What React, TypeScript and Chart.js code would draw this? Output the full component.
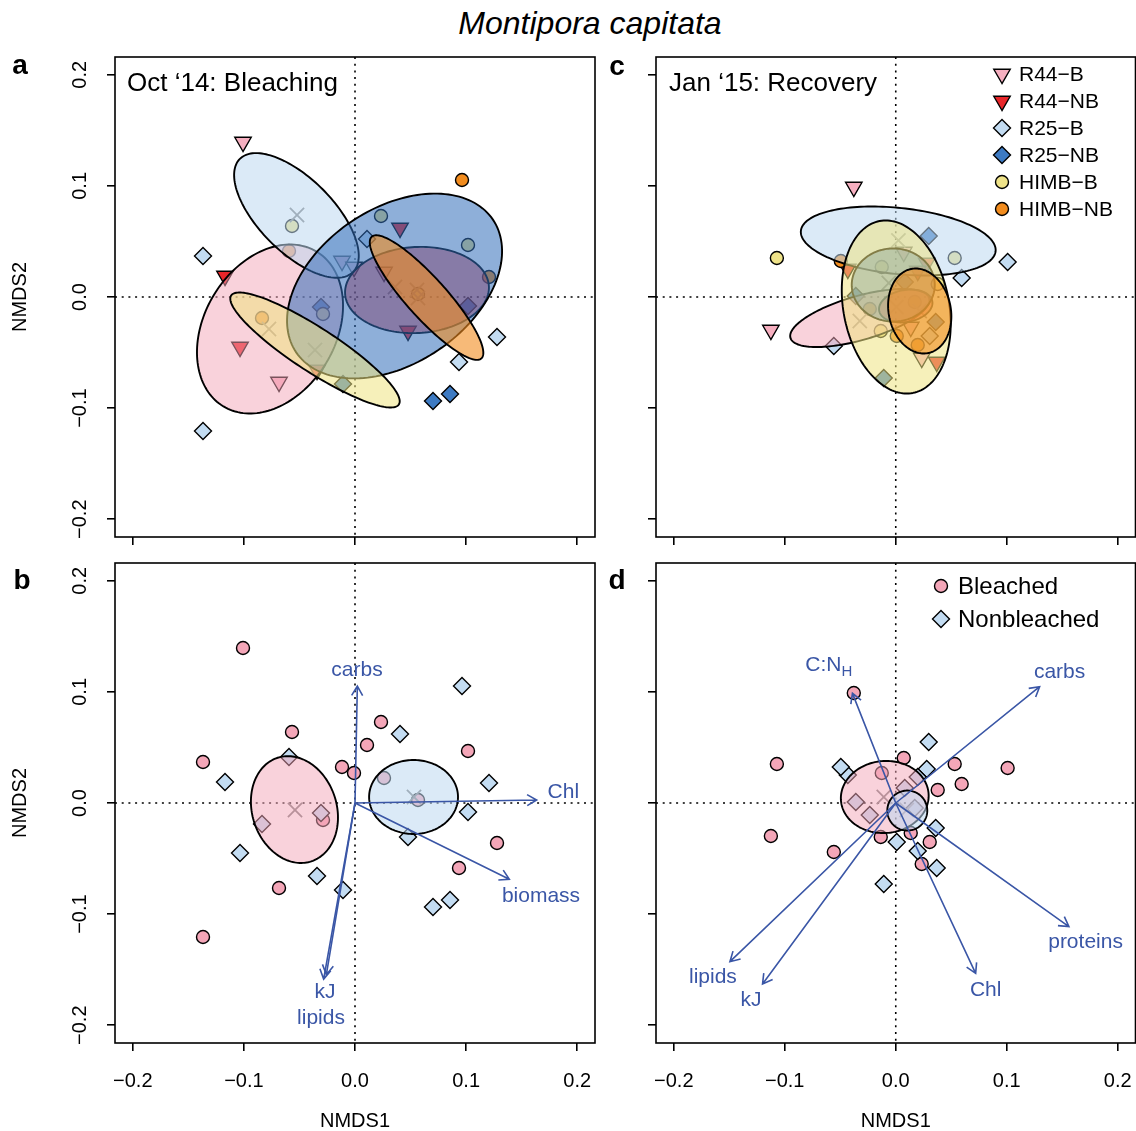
import React, { useEffect, useRef } from "react";
import { Chart, registerables } from "chart.js";

Chart.register(...registerables);

const FONT = "'Liberation Sans', Arial, Helvetica, sans-serif";
const INK = "#000000";
const VECTOR_BLUE = "#3A56A6";
const CENTROID_GREY = "#7D7D7D";

// ---------------- axes ----------------
const AXIS_MIN = -0.216;
const AXIS_MAX = 0.216;
const TICK_VALUES = [-0.2, -0.1, 0.0, 0.1, 0.2];
const TICK_LABELS = ["\u22120.2", "\u22120.1", "0.0", "0.1", "0.2"];

// ---------------- site x status groups ----------------
const GROUP_NAMES = ["R44\u2212B", "R44\u2212NB", "R25\u2212B", "R25\u2212NB", "HIMB\u2212B", "HIMB\u2212NB"];
const GROUP_SHAPES = ["triangleDown", "triangleDown", "diamond", "diamond", "circle", "circle"];
const GROUP_FILLS = ["#F6AFC0", "#E8262A", "#C3DCF2", "#3D7AC2", "#EFE389", "#F28C1E"];
const GROUP_ELLIPSE_FILLS = [
  "rgba(244,166,184,0.5)",
  "rgba(228,30,35,0.5)",
  "rgba(190,216,240,0.55)",
  "rgba(50,110,185,0.55)",
  "rgba(238,228,130,0.55)",
  "rgba(242,140,30,0.6)",
];

// Oct '14 NMDS scores (NMDS1, NMDS2)
const oct_R44_B = [[-0.1008, 0.1395], [-0.0117, 0.0324], [-0.0009, 0.027], [0.0261, 0.0225], [-0.0684, -0.0765]];
const oct_R44_NB = [[0.0405, 0.0621], [-0.117, 0.0189], [0.0477, -0.0306], [-0.1035, -0.045], [-0.0342, -0.0657]];
const oct_R25_B = [[-0.1368, 0.0369], [0.0108, 0.0522], [0.1278, -0.036], [0.0936, -0.0585], [-0.1368, -0.1206]];
const oct_R25_NB = [[0.1017, -0.0081], [-0.0306, -0.009], [-0.0108, -0.0783], [0.0702, -0.0936], [0.0855, -0.0873]];
const oct_HIMB_B = [[-0.0567, 0.0639], [0.0234, 0.0729], [0.1017, 0.0468], [0.0567, 0.0027], [-0.0288, -0.0153]];
const oct_HIMB_NB = [[0.0963, 0.1053], [0.1206, 0.018], [-0.0594, 0.0414], [-0.0837, -0.0189]];

// Jan '15 NMDS scores
const jan_R44_B = [[-0.0378, 0.099], [-0.1125, -0.0297], [0.0072, 0.0405], [0.0234, -0.0549], [0.0135, -0.027]];
const jan_R44_NB = [[-0.0432, 0.0252], [0.0279, 0.0306], [0.0369, -0.0585], [0.0198, 0.0234]];
const jan_R25_B = [[-0.0558, -0.0441], [0.1008, 0.0315], [0.0594, 0.0171], [0.0306, -0.0351]];
const jan_R25_NB = [[0.0297, 0.0549], [-0.036, 0.0009], [0.0081, 0.0135], [0.036, -0.0225], [-0.0108, -0.0729]];
const jan_HIMB_B = [[-0.1071, 0.0351], [0.0531, 0.0351], [-0.0126, 0.027], [-0.0135, -0.0306], [0.0378, 0.0117]];
const jan_HIMB_NB = [[-0.0495, 0.0324], [-0.0234, -0.0108], [0.0009, -0.0351], [0.0198, -0.0432], [0.0171, -0.0045]];

// group ellipses: [centre x, centre y, semi-axis a, semi-axis b, angle deg]
const OCT_ELLIPSES = [
  [-0.0765, -0.0288, 0.0813, 0.0591, 59],
  [0.0558, 0.0063, 0.0648, 0.0387, 3],
  [-0.0527, 0.0734, 0.072, 0.0333, -45],
  [0.0356, 0.0099, 0.1068, 0.0698, 34],
  [-0.036, -0.0477, 0.09, 0.0198, -33],
  [0.0644, -0.0005, 0.0737, 0.018, -48],
];
const JAN_ELLIPSES = [
  [-0.0324, -0.0189, 0.065, 0.0198, 16],
  [0.009, -0.0081, 0.0243, 0.0144, 10],
  [0.00225, 0.0504, 0.0882, 0.0298, -6],
  [-0.00225, 0.0108, 0.0374, 0.0329, 0],
  [0.00045, -0.009, 0.0788, 0.0476, -79],
  [0.0216, -0.0126, 0.0386, 0.028, -78.5],
];
const OCT_CENTROIDS = [[-0.0522, 0.0738], [-0.0774, -0.0288], [-0.036, -0.0477], [0.036, 0.009], [0.0558, 0.0063], [0.0567, -0.0009]];
const JAN_CENTROIDS = [[0.0024, 0.051], [-0.0324, -0.0216], [-0.0063, 0.0126], [0.0216, -0.0126], [0.0005, -0.009]];

// ---------------- bleaching status ----------------
const STATUS_NAMES = ["Bleached", "Nonbleached"];
const STATUS_SHAPES = ["circle", "diamond"];
const STATUS_FILLS = ["#F4A6B8", "#C3DCF2"];
const STATUS_ELLIPSE_FILLS = ["rgba(244,166,184,0.5)", "rgba(190,216,240,0.55)"];
const OCT_STATUS_ELLIPSES = [[-0.0545, -0.0059, 0.049, 0.038, -72], [0.0527, 0.0054, 0.04, 0.0333, 0]];
const JAN_STATUS_ELLIPSES = [[-0.0099, 0.0054, 0.0396, 0.0324, 5], [0.0104, -0.0068, 0.018, 0.018, 0]];
const OCT_STATUS_CENTROIDS = [[-0.054, -0.0063], [0.0531, 0.0054]];
const JAN_STATUS_CENTROIDS = [[-0.0108, 0.0054], [0.0099, -0.0063]];

// ---------------- fitted vectors ----------------
const OCT_VECTOR_NAMES = ["carbs", "Chl", "biomass", "kJ", "lipids"];
const OCT_VECTOR_SUBS = ["", "", "", "", ""];
const OCT_VECTOR_ENDS = [[0.0021, 0.1053], [0.1635, 0.0027], [0.1389, -0.0687], [-0.0282, -0.1585], [-0.0258, -0.1545]];
const OCT_VECTOR_LABEL_POS = [[0.0018, 0.1197], [0.1875, 0.0099], [0.1674, -0.0837], [-0.027, -0.1707], [-0.0306, -0.1941]];

const JAN_VECTOR_NAMES = ["C:N", "carbs", "proteins", "Chl", "kJ", "lipids"];
const JAN_VECTOR_SUBS = ["H", "", "", "", "", ""];
const JAN_VECTOR_ENDS = [[-0.039, 0.0987], [0.1296, 0.1047], [0.156, -0.1113], [0.072, -0.1533], [-0.12, -0.1629], [-0.1494, -0.1428]];
const JAN_VECTOR_LABEL_POS = [[-0.0603, 0.1242], [0.1476, 0.1179], [0.171, -0.1251], [0.081, -0.1683], [-0.1305, -0.1773], [-0.1647, -0.1566]];

// ---------------- drawing helpers ----------------
const RADIUS: any = { triangleDown: 9.5, diamond: 8.5, circle: 6.5 };
const CJS_STYLE: any = { triangleDown: "triangle", diamond: "rectRot", circle: "circle" };

function markerPath(ctx: any, shape: string, x: number, y: number) {
  const r = RADIUS[shape];
  ctx.beginPath();
  if (shape === "circle") {
    ctx.arc(x, y, r, 0, Math.PI * 2);
  } else if (shape === "diamond") {
    ctx.moveTo(x, y - r);
    ctx.lineTo(x + r, y);
    ctx.lineTo(x, y + r);
    ctx.lineTo(x - r, y);
    ctx.closePath();
  } else {
    for (let k = 0; k < 3; k++) {
      const a = Math.PI + (k * 2 * Math.PI) / 3;
      const px = x + Math.sin(a) * r;
      const py = y - Math.cos(a) * r;
      if (k === 0) ctx.moveTo(px, py);
      else ctx.lineTo(px, py);
    }
    ctx.closePath();
  }
}

function toPts(arr: number[][]) {
  return arr.map(([x, y]) => ({ x, y }));
}

type Spec = any;

function buildPlugin(spec: Spec) {
  return {
    id: "panelDecor",
    beforeDatasetsDraw(chart: any) {
      const { ctx, chartArea: ca, scales } = chart;
      const x0 = scales.x.getPixelForValue(0);
      const y0 = scales.y.getPixelForValue(0);
      ctx.save();
      ctx.beginPath();
      ctx.rect(ca.left, ca.top, ca.right - ca.left, ca.bottom - ca.top);
      ctx.clip();
      ctx.setLineDash([2, 4.7]);
      ctx.lineWidth = 1.6;
      ctx.strokeStyle = INK;
      ctx.beginPath();
      ctx.moveTo(x0, ca.top);
      ctx.lineTo(x0, ca.bottom);
      ctx.moveTo(ca.left, y0);
      ctx.lineTo(ca.right, y0);
      ctx.stroke();
      ctx.restore();
    },
    afterDatasetsDraw(chart: any) {
      const { ctx, chartArea: ca, scales } = chart;
      const sx = scales.x;
      const sy = scales.y;
      ctx.save();
      // ellipses
      spec.ellipses.forEach((el: any) => {
        const [cx, cy, a, b, deg] = el.e;
        const th = (deg * Math.PI) / 180;
        ctx.beginPath();
        for (let i = 0; i <= 160; i++) {
          const t = (i / 160) * Math.PI * 2;
          const dx = a * Math.cos(t);
          const dy = b * Math.sin(t);
          const x = cx + dx * Math.cos(th) - dy * Math.sin(th);
          const y = cy + dx * Math.sin(th) + dy * Math.cos(th);
          const px = sx.getPixelForValue(x);
          const py = sy.getPixelForValue(y);
          if (i === 0) ctx.moveTo(px, py);
          else ctx.lineTo(px, py);
        }
        ctx.closePath();
        ctx.fillStyle = el.fill;
        ctx.fill();
        ctx.lineWidth = 1.9;
        ctx.strokeStyle = INK;
        ctx.stroke();
      });
      // vectors
      if (spec.vectors) {
        const v = spec.vectors;
        const ox = sx.getPixelForValue(0);
        const oy = sy.getPixelForValue(0);
        ctx.strokeStyle = VECTOR_BLUE;
        ctx.fillStyle = VECTOR_BLUE;
        ctx.lineWidth = 1.6;
        v.ends.forEach((e: number[], i: number) => {
          const ex = sx.getPixelForValue(e[0]);
          const ey = sy.getPixelForValue(e[1]);
          const ang = Math.atan2(ey - oy, ex - ox);
          const hl = 11;
          const ha = Math.PI / 6;
          ctx.beginPath();
          ctx.moveTo(ox, oy);
          ctx.lineTo(ex, ey);
          ctx.moveTo(ex - hl * Math.cos(ang - ha), ey - hl * Math.sin(ang - ha));
          ctx.lineTo(ex, ey);
          ctx.lineTo(ex - hl * Math.cos(ang + ha), ey - hl * Math.sin(ang + ha));
          ctx.stroke();
          const lx = sx.getPixelForValue(v.labels[i][0]);
          const ly = sy.getPixelForValue(v.labels[i][1]);
          ctx.font = `21px ${FONT}`;
          const w1 = ctx.measureText(v.names[i]).width;
          let w2 = 0;
          if (v.subs[i]) {
            ctx.font = `15px ${FONT}`;
            w2 = ctx.measureText(v.subs[i]).width;
          }
          const start = lx - (w1 + w2) / 2;
          ctx.textAlign = "left";
          ctx.textBaseline = "middle";
          ctx.font = `21px ${FONT}`;
          ctx.fillText(v.names[i], start, ly);
          if (v.subs[i]) {
            ctx.font = `15px ${FONT}`;
            ctx.fillText(v.subs[i], start + w1, ly + 7);
          }
        });
      }
      // legend
      if (spec.legend) {
        const lg = spec.legend;
        lg.names.forEach((name: string, i: number) => {
          const y = lg.y0 + i * lg.dy;
          markerPath(ctx, lg.shapes[i], lg.mx, y);
          ctx.fillStyle = lg.fills[i];
          ctx.fill();
          ctx.lineWidth = 1.4;
          ctx.strokeStyle = INK;
          ctx.stroke();
          ctx.fillStyle = INK;
          ctx.font = `${lg.size}px ${FONT}`;
          ctx.textAlign = "left";
          ctx.textBaseline = "middle";
          ctx.fillText(name, lg.tx, y + 1);
        });
      }
      // panel title
      if (spec.title) {
        ctx.fillStyle = INK;
        ctx.font = `26px ${FONT}`;
        ctx.textAlign = "left";
        ctx.textBaseline = "middle";
        ctx.fillText(spec.title.text, spec.title.x, spec.title.y);
      }
      // box
      ctx.lineWidth = 1.6;
      ctx.strokeStyle = INK;
      ctx.setLineDash([]);
      ctx.strokeRect(ca.left, ca.top, ca.right - ca.left, ca.bottom - ca.top);
      ctx.restore();
    },
    afterDraw(chart: any) {
      const { ctx, chartArea: ca, scales } = chart;
      ctx.save();
      ctx.fillStyle = INK;
      // panel letter
      ctx.font = `bold 28px ${FONT}`;
      ctx.textAlign = "center";
      ctx.textBaseline = "middle";
      ctx.fillText(spec.letter.text, spec.letter.x, spec.letter.y);
      ctx.font = `20px ${FONT}`;
      if (spec.yLabels) {
        TICK_VALUES.forEach((v, i) => {
          const py = scales.y.getPixelForValue(v);
          ctx.save();
          ctx.translate(80, py);
          ctx.rotate(-Math.PI / 2);
          ctx.textAlign = "center";
          ctx.textBaseline = "middle";
          ctx.fillText(TICK_LABELS[i], 0, 0);
          ctx.restore();
        });
        ctx.save();
        ctx.translate(20, (ca.top + ca.bottom) / 2);
        ctx.rotate(-Math.PI / 2);
        ctx.textAlign = "center";
        ctx.textBaseline = "middle";
        ctx.fillText("NMDS2", 0, 0);
        ctx.restore();
      }
      if (spec.xLabels) {
        ctx.textAlign = "center";
        ctx.textBaseline = "middle";
        TICK_VALUES.forEach((v, i) => {
          const px = scales.x.getPixelForValue(v);
          ctx.fillText(TICK_LABELS[i], px, 526);
        });
        ctx.fillText("NMDS1", (ca.left + ca.right) / 2, 566);
      }
      ctx.restore();
    },
  };
}

function Panel({ spec }: { spec: Spec }) {
  const ref = useRef<HTMLCanvasElement | null>(null);
  useEffect(() => {
    const canvas = ref.current;
    if (!canvas) return;
    const { width, height, area } = spec;
    const tickSet = (scale: any) => {
      scale.ticks = TICK_VALUES.map((value) => ({ value }));
    };
    const noPad = (s: any) => {
      s.paddingLeft = 0;
      s.paddingRight = 0;
      s.paddingTop = 0;
      s.paddingBottom = 0;
    };
    const gridOpts = {
      display: true,
      drawOnChartArea: false,
      drawTicks: true,
      tickLength: 8,
      color: INK,
      lineWidth: 1.6,
      tickColor: INK,
      tickWidth: 1.6,
    };
    const datasets: any[] = [
      {
        label: "centroids",
        data: toPts(spec.centroids),
        pointStyle: "crossRot",
        pointRadius: 10,
        pointHoverRadius: 10,
        borderColor: CENTROID_GREY,
        backgroundColor: "rgba(0,0,0,0)",
        borderWidth: 1.8,
        showLine: false,
        order: 0,
      },
      ...spec.groups.map((g: any, i: number) => ({
        label: g.name,
        data: toPts(g.points),
        pointStyle: CJS_STYLE[g.shape],
        pointRotation: g.shape === "triangleDown" ? 180 : 0,
        pointRadius: RADIUS[g.shape],
        pointHoverRadius: RADIUS[g.shape],
        backgroundColor: g.fill,
        borderColor: INK,
        borderWidth: 1.4,
        showLine: false,
        order: 20 - i,
      })),
    ];
    const chart = new Chart(canvas, {
      type: "scatter",
      data: { datasets },
      options: {
        responsive: false,
        maintainAspectRatio: false,
        animation: false,
        devicePixelRatio: 1,
        events: [],
        layout: { autoPadding: false, padding: { left: 0, top: area.top, right: width - area.right, bottom: 0 } },
        plugins: { legend: { display: false }, tooltip: { enabled: false }, title: { display: false } },
        scales: {
          x: {
            type: "linear",
            position: "bottom",
            min: AXIS_MIN,
            max: AXIS_MAX,
            afterBuildTicks: tickSet,
            afterFit: (s: any) => {
              s.height = height - area.bottom;
              noPad(s);
            },
            ticks: { display: false },
            grid: gridOpts,
            border: { display: false },
          },
          y: {
            type: "linear",
            position: "left",
            min: AXIS_MIN,
            max: AXIS_MAX,
            afterBuildTicks: tickSet,
            afterFit: (s: any) => {
              s.width = area.left;
              noPad(s);
            },
            ticks: { display: false },
            grid: gridOpts,
            border: { display: false },
          },
        },
      } as any,
      plugins: [buildPlugin(spec) as any],
    });
    return () => chart.destroy();
  }, [spec]);
  return (
    <canvas
      ref={ref}
      width={spec.width}
      height={spec.height}
      style={{ position: "absolute", left: spec.left, top: spec.top, width: spec.width, height: spec.height }}
    />
  );
}

function siteGroups(sets: number[][][]) {
  return GROUP_NAMES.map((name, i) => ({ name, shape: GROUP_SHAPES[i], fill: GROUP_FILLS[i], points: sets[i] }));
}

const OCT_SETS = [oct_R44_B, oct_R44_NB, oct_R25_B, oct_R25_NB, oct_HIMB_B, oct_HIMB_NB];
const JAN_SETS = [jan_R44_B, jan_R44_NB, jan_R25_B, jan_R25_NB, jan_HIMB_B, jan_HIMB_NB];

function statusGroups(sets: number[][][]) {
  const bleached = [...sets[0], ...sets[2], ...sets[4]];
  const non = [...sets[1], ...sets[3], ...sets[5]];
  return [bleached, non].map((points, i) => ({ name: STATUS_NAMES[i], shape: STATUS_SHAPES[i], fill: STATUS_FILLS[i], points }));
}

const SPECS: Spec[] = [
  {
    key: "a",
    left: 0, top: 40, width: 605, height: 520,
    area: { left: 115, top: 17, right: 595, bottom: 497 },
    groups: siteGroups(OCT_SETS),
    ellipses: OCT_ELLIPSES.map((e, i) => ({ e, fill: GROUP_ELLIPSE_FILLS[i] })),
    centroids: OCT_CENTROIDS,
    title: { text: "Oct \u201814: Bleaching", x: 127, y: 44 },
    letter: { text: "a", x: 20, y: 26 },
    yLabels: true, xLabels: false,
  },
  {
    key: "c",
    left: 600, top: 40, width: 536, height: 520,
    area: { left: 56, top: 17, right: 535.5, bottom: 497 },
    groups: siteGroups(JAN_SETS),
    ellipses: JAN_ELLIPSES.map((e, i) => ({ e, fill: GROUP_ELLIPSE_FILLS[i] })),
    centroids: JAN_CENTROIDS,
    title: { text: "Jan \u201815: Recovery", x: 69, y: 44 },
    legend: { names: GROUP_NAMES, shapes: GROUP_SHAPES, fills: GROUP_FILLS, mx: 402, tx: 419, y0: 34, dy: 27, size: 21 },
    letter: { text: "c", x: 17, y: 27 },
    yLabels: false, xLabels: false,
  },
  {
    key: "b",
    left: 0, top: 555, width: 605, height: 576,
    area: { left: 115, top: 8, right: 595, bottom: 488 },
    groups: statusGroups(OCT_SETS),
    ellipses: OCT_STATUS_ELLIPSES.map((e, i) => ({ e, fill: STATUS_ELLIPSE_FILLS[i] })),
    centroids: OCT_STATUS_CENTROIDS,
    vectors: { names: OCT_VECTOR_NAMES, subs: OCT_VECTOR_SUBS, ends: OCT_VECTOR_ENDS, labels: OCT_VECTOR_LABEL_POS },
    letter: { text: "b", x: 22, y: 26 },
    yLabels: true, xLabels: true,
  },
  {
    key: "d",
    left: 600, top: 555, width: 536, height: 576,
    area: { left: 56, top: 8, right: 535.5, bottom: 488 },
    groups: statusGroups(JAN_SETS),
    ellipses: JAN_STATUS_ELLIPSES.map((e, i) => ({ e, fill: STATUS_ELLIPSE_FILLS[i] })),
    centroids: JAN_STATUS_CENTROIDS,
    vectors: { names: JAN_VECTOR_NAMES, subs: JAN_VECTOR_SUBS, ends: JAN_VECTOR_ENDS, labels: JAN_VECTOR_LABEL_POS },
    legend: { names: STATUS_NAMES, shapes: STATUS_SHAPES, fills: STATUS_FILLS, mx: 341, tx: 358, y0: 31, dy: 33, size: 24 },
    letter: { text: "d", x: 17, y: 26 },
    yLabels: false, xLabels: true,
  },
];

export default function App() {
  useEffect(() => {
    document.body.style.margin = "0";
  }, []);
  return (
    <div style={{ position: "absolute", left: 0, top: 0, width: 1136, height: 1131, background: "#ffffff", overflow: "hidden" }}>
      <div
        style={{
          position: "absolute",
          left: 390,
          top: 7,
          width: 400,
          textAlign: "center",
          fontFamily: FONT,
          fontStyle: "italic",
          fontSize: 32,
          lineHeight: "32px",
          color: INK,
          whiteSpace: "nowrap",
        }}
      >
        Montipora capitata
      </div>
      {SPECS.map((s) => (
        <Panel key={s.key} spec={s} />
      ))}
    </div>
  );
}
